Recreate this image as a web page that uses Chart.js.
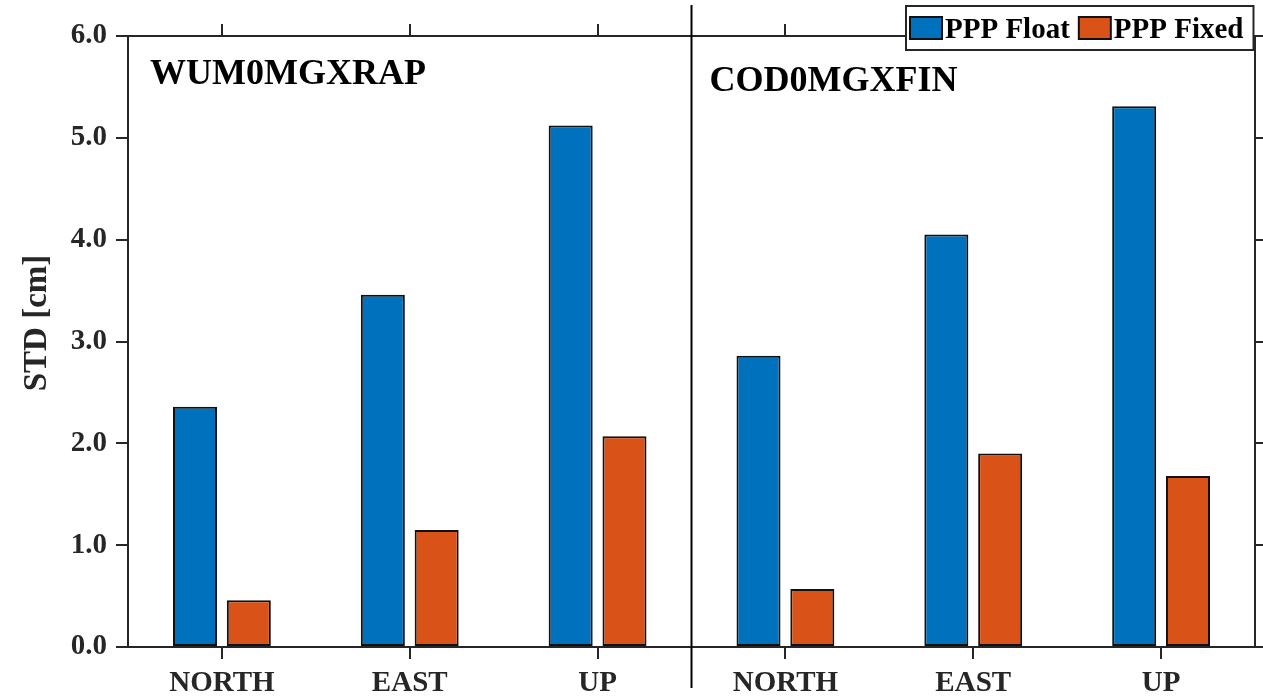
<!DOCTYPE html>
<html>
<head>
<meta charset="utf-8">
<script src="https://cdn.jsdelivr.net/npm/chart.js@4"></script>
<style>
  body { margin: 0; background: #fff; }
  canvas { display: block; }
</style>
</head>
<body>
<canvas id="graph" width="1263" height="700"></canvas>
<script>
// values (cm)
var categories = ["NORTH", "EAST", "UP", "NORTH", "EAST", "UP"];
var products = ["WUM0MGXRAP", "COD0MGXFIN"];
var floatStd = [2.36, 3.46, 5.12, 2.86, 4.05, 5.31];
var fixedStd = [0.46, 1.15, 2.07, 0.57, 1.90, 1.68];
var yTicks = [0, 1, 2, 3, 4, 5, 6];

var serif = "'Liberation Serif', 'Times New Roman', serif";
var axisColor = "#262626";

var tickGrid = {
	drawOnChartArea: false,
	drawTicks: true,
	tickLength: 12,
	lineWidth: 2,
	color: axisColor
};

// title, product names, separator and boxed legend
var overlay = {
	id: "overlay",
	afterDraw: function(chart) {
		var ctx = chart.ctx;
		var x = chart.scales.x;
		var area = chart.chartArea;
		var sx = (x.getPixelForValue(2) + x.getPixelForValue(3)) / 2;

		ctx.save();
		ctx.strokeStyle = "#000";
		ctx.lineWidth = 2;
		ctx.beginPath();
		ctx.moveTo(sx, 5);
		ctx.lineTo(sx, 688);
		ctx.stroke();

		ctx.fillStyle = "#000";
		ctx.textAlign = "left";
		ctx.textBaseline = "alphabetic";
		ctx.font = "bold 36px " + serif;
		ctx.fillText(products[0], area.left + 22, 84);
		ctx.fillText(products[1], sx + 18, 91);

		ctx.save();
		ctx.translate(46, 323);
		ctx.rotate(-Math.PI / 2);
		ctx.textAlign = "center";
		ctx.fillStyle = axisColor;
		ctx.font = "bold 33px " + serif;
		ctx.fillText("STD [cm]", 0, 0);
		ctx.restore();

		// legend
		ctx.font = "bold 29px " + serif;
		var left = 906, top = 6, h = 44;
		var pos = left + 4;
		var items = [];
		chart.data.datasets.forEach(function(ds) {
			var w = ctx.measureText(ds.label).width;
			items.push({ x: pos, ds: ds });
			pos += 32 + 3 + w + 9;
		});
		var right = pos - 9 + 10;
		ctx.fillStyle = "#fff";
		ctx.fillRect(left, top, right - left, h);
		ctx.strokeStyle = axisColor;
		ctx.lineWidth = 2;
		ctx.strokeRect(left, top, right - left, h);
		items.forEach(function(it) {
			ctx.fillStyle = it.ds.backgroundColor;
			ctx.fillRect(it.x, 17, 32, 22);
			ctx.strokeStyle = "#111";
			ctx.lineWidth = 2;
			ctx.strokeRect(it.x, 17, 32, 22);
			ctx.fillStyle = "#000";
			ctx.fillText(it.ds.label, it.x + 35, 38);
		});
		ctx.restore();
	}
};

var ctx = document.getElementById("graph").getContext("2d");

var chart = new Chart(ctx, {
	type: "bar",
	data: {
		labels: categories,
		datasets: [{
			label: "PPP Float",
			data: floatStd,
			backgroundColor: "#0072BD",
			borderColor: "#111",
			borderWidth: 2,
			borderSkipped: false
		}, {
			label: "PPP Fixed",
			data: fixedStd,
			backgroundColor: "#D95319",
			borderColor: "#111",
			borderWidth: 2,
			borderSkipped: false
		}]
	},
	options: {
		responsive: false,
		animation: false,
		devicePixelRatio: 1,
		categoryPercentage: 0.573,
		barPercentage: 0.818,
		layout: { padding: 0 },
		plugins: {
			legend: { display: false },
			tooltip: { enabled: false }
		},
		scales: {
			x: {
				type: "category",
				position: "bottom",
				offset: true,
				grid: Object.assign({ offset: false }, tickGrid),
				border: { display: true, color: axisColor, width: 2 },
				ticks: {
					autoSkip: false,
					maxRotation: 0,
					padding: 7,
					color: axisColor,
					font: { family: serif, size: 29, weight: "bold" }
				},
				afterFit: function(s) { s.height = 53; }
			},
			x2: {
				type: "category",
				position: "top",
				labels: categories,
				offset: true,
				grid: Object.assign({ offset: false }, tickGrid),
				border: { display: true, color: axisColor, width: 2 },
				ticks: { display: false },
				afterFit: function(s) { s.height = 36; }
			},
			y: {
				position: "left",
				min: 0,
				max: 6,
				afterBuildTicks: function(s) {
					s.ticks = yTicks.map(function(v) { return { value: v }; });
				},
				grid: tickGrid,
				border: { display: true, color: axisColor, width: 2 },
				ticks: {
					padding: 9,
					color: axisColor,
					font: { family: serif, size: 29, weight: "bold" },
					callback: function(v) { return v.toFixed(1); }
				},
				afterFit: function(s) { s.width = 128; }
			},
			y2: {
				position: "right",
				min: 0,
				max: 6,
				afterBuildTicks: function(s) {
					s.ticks = yTicks.map(function(v) { return { value: v }; });
				},
				grid: tickGrid,
				border: { display: true, color: axisColor, width: 2 },
				ticks: { display: false },
				afterFit: function(s) { s.width = 8; }
			}
		}
	},
	plugins: [overlay]
});
</script>
</body>
</html>
